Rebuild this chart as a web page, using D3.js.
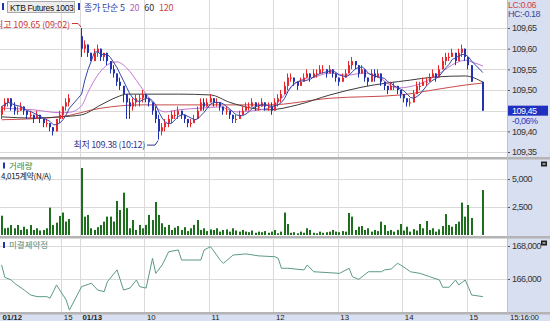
<!DOCTYPE html>
<html>
<head>
<meta charset="utf-8">
<script src="https://cdn.jsdelivr.net/npm/d3@7"></script>
<style>
body { margin: 0; background: #fff; }
text { font-family: "Liberation Sans", Arial, sans-serif; }
.kr { font-family: "Noto Sans CJK KR", sans-serif; }
</style>
</head>
<body>
<svg id="chart" width="550" height="321"></svg>
<script>
// 3-minute candles, KTB Futures 1003
const day1Open = new Date(2010, 0, 12, 14, 3);
const day1End = new Date(2010, 0, 12, 15, 15);
const day2Open = new Date(2010, 0, 13, 9, 0);
const day2End = new Date(2010, 0, 13, 15, 16);
const closeTime = new Date(2010, 0, 13, 15, 15);

// [open, high, low, close]
const ohlc1 = [
  [109.44,109.46,109.43,109.46],[109.46,109.48,109.45,109.47],[109.47,109.48,109.46,109.48],[109.48,109.48,109.45,109.46],
  [109.46,109.47,109.44,109.45],[109.45,109.46,109.44,109.45],[109.45,109.47,109.45,109.46],[109.46,109.46,109.44,109.45],
  [109.45,109.45,109.43,109.44],[109.44,109.45,109.43,109.44],[109.44,109.44,109.42,109.43],[109.43,109.45,109.43,109.44],
  [109.44,109.44,109.42,109.43],[109.43,109.43,109.41,109.42],[109.42,109.43,109.41,109.42],[109.42,109.42,109.40,109.41],
  [109.41,109.41,109.39,109.40],[109.40,109.43,109.40,109.43],[109.43,109.45,109.42,109.44],[109.44,109.46,109.43,109.46],
  [109.46,109.48,109.45,109.47],[109.47,109.49,109.46,109.48]
];
const ohlc2 = [
  [109.63,109.65,109.58,109.60],[109.60,109.62,109.59,109.61],[109.61,109.61,109.58,109.59],[109.59,109.59,109.57,109.57],
  [109.57,109.60,109.57,109.59],[109.59,109.61,109.58,109.60],[109.60,109.60,109.57,109.58],[109.58,109.59,109.57,109.59],
  [109.59,109.59,109.56,109.57],[109.57,109.57,109.54,109.55],[109.55,109.56,109.53,109.54],[109.54,109.54,109.51,109.52],
  [109.52,109.53,109.50,109.51],[109.51,109.51,109.47,109.49],[109.49,109.49,109.43,109.47],[109.47,109.48,109.43,109.46],
  [109.46,109.48,109.45,109.47],[109.47,109.49,109.46,109.48],[109.48,109.49,109.46,109.48],[109.48,109.50,109.47,109.49],
  [109.49,109.49,109.47,109.48],[109.48,109.48,109.46,109.47],[109.47,109.47,109.44,109.45],[109.45,109.46,109.42,109.43],
  [109.43,109.44,109.38,109.40],[109.40,109.42,109.39,109.41],[109.41,109.43,109.40,109.42],[109.42,109.44,109.41,109.43],
  [109.43,109.45,109.42,109.44],[109.44,109.45,109.43,109.44],[109.44,109.46,109.43,109.45],[109.45,109.45,109.43,109.44],
  [109.44,109.44,109.42,109.43],[109.43,109.43,109.41,109.42],[109.42,109.43,109.41,109.42],[109.42,109.44,109.42,109.43],
  [109.43,109.46,109.43,109.45],[109.45,109.48,109.45,109.47],[109.47,109.48,109.45,109.46],[109.46,109.48,109.46,109.47],
  [109.47,109.49,109.47,109.48],[109.48,109.48,109.46,109.47],[109.47,109.48,109.46,109.47],[109.47,109.47,109.45,109.46],
  [109.46,109.46,109.44,109.45],[109.45,109.46,109.44,109.45],[109.45,109.45,109.43,109.44],[109.44,109.44,109.42,109.43],
  [109.43,109.44,109.42,109.43],[109.43,109.45,109.43,109.44],[109.44,109.46,109.44,109.45],[109.45,109.47,109.45,109.46],
  [109.46,109.47,109.45,109.46],[109.46,109.48,109.46,109.47],[109.47,109.47,109.45,109.46],[109.46,109.47,109.45,109.46],
  [109.46,109.48,109.46,109.47],[109.47,109.47,109.45,109.46],[109.46,109.47,109.45,109.46],[109.46,109.47,109.44,109.45],
  [109.45,109.48,109.45,109.47],[109.47,109.49,109.46,109.48],[109.48,109.50,109.47,109.49],[109.49,109.52,109.49,109.51],
  [109.51,109.54,109.50,109.53],[109.53,109.54,109.52,109.53],[109.53,109.53,109.51,109.52],[109.52,109.52,109.50,109.51],
  [109.51,109.53,109.51,109.52],[109.52,109.54,109.52,109.53],[109.53,109.55,109.53,109.54],[109.54,109.54,109.52,109.53],
  [109.53,109.55,109.53,109.54],[109.54,109.55,109.53,109.54],[109.54,109.56,109.54,109.55],[109.55,109.56,109.54,109.55],
  [109.55,109.55,109.53,109.54],[109.54,109.56,109.54,109.55],[109.55,109.55,109.53,109.54],[109.54,109.54,109.52,109.53],
  [109.53,109.53,109.51,109.52],[109.52,109.54,109.52,109.53],[109.53,109.55,109.53,109.54],[109.54,109.57,109.54,109.56],
  [109.56,109.58,109.55,109.57],[109.57,109.57,109.55,109.56],[109.56,109.56,109.53,109.54],[109.54,109.56,109.54,109.55],
  [109.55,109.55,109.52,109.53],[109.53,109.53,109.51,109.52],[109.52,109.55,109.52,109.54],[109.54,109.55,109.52,109.53],
  [109.53,109.55,109.53,109.54],[109.54,109.54,109.51,109.52],[109.52,109.52,109.50,109.51],[109.51,109.51,109.49,109.50],
  [109.50,109.52,109.50,109.51],[109.51,109.52,109.50,109.51],[109.51,109.51,109.49,109.50],[109.50,109.50,109.48,109.49],
  [109.49,109.49,109.47,109.48],[109.48,109.48,109.46,109.47],[109.47,109.48,109.46,109.47],[109.47,109.50,109.47,109.49],
  [109.49,109.52,109.49,109.51],[109.51,109.52,109.50,109.51],[109.51,109.53,109.51,109.52],[109.52,109.53,109.51,109.52],
  [109.52,109.54,109.52,109.53],[109.53,109.55,109.53,109.54],[109.54,109.54,109.52,109.53],[109.53,109.56,109.53,109.55],
  [109.55,109.58,109.55,109.57],[109.57,109.59,109.56,109.58],[109.58,109.59,109.57,109.58],[109.58,109.60,109.58,109.59],
  [109.59,109.59,109.56,109.57],[109.57,109.60,109.57,109.59],[109.59,109.61,109.58,109.60],[109.60,109.60,109.57,109.58],
  [109.58,109.58,109.55,109.56],[109.56,109.56,109.52,109.52]
];
const ohlcClose = [109.52, 109.52, 109.45, 109.45];

const vol1 = [1720,600,650,890,600,890,450,740,520,890,450,600,400,450,600,2440,890,1100,1700,2000,1200,1430];
const vol2 = [5980,1640,1790,600,450,700,890,1190,1640,1640,1200,3040,2230,3780,2400,600,1340,450,900,600,
  900,1790,1340,2950,1790,1050,700,900,450,650,800,450,700,350,600,900,1340,450,600,350,
  500,450,600,300,450,500,300,600,400,300,450,310,250,400,200,300,250,350,200,300,
  450,150,300,2000,980,200,250,150,300,200,600,450,200,150,300,200,250,300,450,300,
  250,350,300,1970,1640,450,740,800,450,600,300,450,350,1190,890,350,450,300,450,980,
  400,740,300,520,400,980,600,1250,450,600,300,500,800,1870,890,740,980,1190,2890,1640,
  2680,1520];
const volClose = 4015;

// moving averages: [bar index, value]
const ma20 = [[0,109.456],[10,109.452],[18,109.445],[21,109.446],[22,109.462],[24,109.495],[27,109.536],[31,109.565],
  [33,109.568],[36,109.553],[40,109.512],[43,109.48],[45,109.459],[48,109.447],[52,109.452],[59,109.456],[65,109.459],
  [70,109.447],[80,109.456],[84,109.48],[87,109.507],[90,109.524],[94,109.531],[99,109.541],[104,109.536],[110,109.541],
  [114,109.531],[120,109.505],[127,109.515],[133,109.54],[138,109.565],[141,109.572],[143,109.568],[144,109.558]];
const ma60 = [[0,109.435],[10,109.432],[18,109.435],[22,109.44],[28,109.464],[33,109.483],[36,109.49],[52,109.49],
  [62,109.488],[68,109.47],[80,109.452],[89,109.464],[99,109.488],[109,109.507],[124,109.524],[131,109.531],
  [141,109.534],[144,109.519]];
const ma120 = [[0,109.428],[18,109.435],[28,109.456],[40,109.464],[80,109.464],[99,109.48],[121,109.488],
  [131,109.50],[141,109.512],[144,109.517]];

// open interest: [bar index, contracts]
const openInt = [[0,166850],[1,166100],[3,165940],[4,165740],[7,165330],[9,165030],[11,164930],[14,164930],[15,164840],
  [16,165230],[17,165640],[19,165030],[20,164730],[21,164120],[22,165540],[25,165740],[27,165330],[29,165230],[30,165840],
  [33,166550],[35,165330],[37,165450],[39,165940],[40,165540],[42,165450],[44,167250],[45,166340],[47,166850],[49,167650],
  [52,167760],[53,167150],[59,167150],[60,167760],[62,167960],[65,167150],[66,166950],[69,167450],[73,167520],[77,167400],
  [82,167350],[83,167250],[84,166650],[86,166650],[91,166550],[92,166850],[94,166440],[99,166380],[102,166340],[105,166650],
  [106,166140],[108,165980],[111,166440],[115,166440],[116,166550],[118,166600],[120,166950],[121,166850],[124,166440],
  [127,166340],[130,166140],[133,165940],[134,165500],[136,165500],[138,165940],[139,165640],[141,165940],[142,165500],
  [143,165030],[144,164930]];

const priceTicks = [109.35,109.40,109.45,109.50,109.55,109.60,109.65];
const volTicks = [2500, 5000];
const oiTicks = [166000, 168000];
const timeTicks = [new Date(2010,0,12,14,3), new Date(2010,0,12,15,0), day2Open, new Date(2010,0,13,10,0),
  new Date(2010,0,13,11,0), new Date(2010,0,13,12,0), new Date(2010,0,13,13,0), new Date(2010,0,13,14,0), new Date(2010,0,13,15,0)];
const timeLabels = ['01/12','15','01/13','10','11','12','13','14','15'];

const lastPrice = '109,45', lastChange = '-0,06%';
const hiNote = '최고 109.65 (09:02)', loNote = '최저 109.38 (10:12)';

// ---- build bars
const step = 3 * 60000;
const bars = [];
ohlc1.forEach((d, i) => bars.push({t: new Date(+day1Open + i * step + step / 2), o: d[0], h: d[1], l: d[2], c: d[3], v: vol1[i]}));
ohlc2.forEach((d, i) => bars.push({t: new Date(+day2Open + i * step + step / 2), o: d[0], h: d[1], l: d[2], c: d[3], v: vol2[i]}));
bars.push({t: closeTime, o: ohlcClose[0], h: ohlcClose[1], l: ohlcClose[2], c: ohlcClose[3], v: volClose});

const plotRight = 507;
const x = d3.scaleTime().domain([day1Open, day1End, day2Open, day2End]).range([0, 77.5, 80, 484]);
const yP = d3.scaleLinear().domain([109.35, 109.65]).range([152, 28]);
const yV = d3.scaleLinear().domain([0, 5000]).range([235, 179]);
const yO = d3.scaleLinear().domain([166000, 168000]).range([279, 246]);
const bx = d => Math.round(x(d.t));

const svg = d3.select('#chart');
svg.append('rect').attr('width', 550).attr('height', 321).attr('fill', '#fff');
svg.append('rect').attr('x', plotRight).attr('y', 0).attr('width', 550 - plotRight).attr('height', 321).attr('fill', '#d8dff0');
svg.append('rect').attr('x', 0).attr('y', 313).attr('width', 550).attr('height', 8).attr('fill', '#d8dff0');

const defs = svg.append('defs');
const panels = [[0, 157], [160, 236], [239, 312]];
panels.forEach((p, i) => {
  defs.append('clipPath').attr('id', 'clip' + i).append('rect')
    .attr('x', 0).attr('y', p[0]).attr('width', plotRight).attr('height', p[1] - p[0]);
});

// grid
const grid = svg.append('g').attr('stroke', '#dadada').attr('stroke-width', 1);
panels.forEach(p => {
  grid.selectAll(null).data(timeTicks.slice(1)).join('line')
    .attr('x1', d => Math.round(x(d)) + 0.5).attr('x2', d => Math.round(x(d)) + 0.5)
    .attr('y1', p[0]).attr('y2', p[1]);
});
grid.selectAll(null).data(priceTicks).join('line')
  .attr('x1', 0).attr('x2', plotRight).attr('y1', d => Math.round(yP(d)) + 0.5).attr('y2', d => Math.round(yP(d)) + 0.5);
grid.selectAll(null).data(volTicks).join('line')
  .attr('x1', 0).attr('x2', plotRight).attr('y1', d => Math.round(yV(d)) + 0.5).attr('y2', d => Math.round(yV(d)) + 0.5);
grid.selectAll(null).data(oiTicks).join('line')
  .attr('x1', 0).attr('x2', plotRight).attr('y1', d => Math.round(yO(d)) + 0.5).attr('y2', d => Math.round(yO(d)) + 0.5);

// panel separators
[157, 236, 312].forEach(y => {
  svg.append('rect').attr('x', 0).attr('y', y).attr('width', 550).attr('height', 2.5).attr('fill', '#b4b4b4');
});

// ---- price panel
const up = '#e8262c', down = '#2233b0';
const barColor = (d, i) => {
  if (d.c > d.o) return up;
  if (d.c < d.o) return down;
  return (i > 0 && d.c < bars[i - 1].c) ? down : up;
};
const gP = svg.append('g').attr('clip-path', 'url(#clip0)');

const maLine = d3.line().x(d => x(bars[d[0]].t)).y(d => yP(d[1])).curve(d3.curveMonotoneX);
gP.append('path').datum(ma120).attr('d', maLine).attr('fill', 'none').attr('stroke', '#c84a4a').attr('stroke-width', 1);
gP.append('path').datum(ma60).attr('d', maLine).attr('fill', 'none').attr('stroke', '#3c3c3c').attr('stroke-width', 1);
gP.append('path').datum(ma20).attr('d', maLine).attr('fill', 'none').attr('stroke', '#c277cf').attr('stroke-width', 1);

gP.selectAll('line.wick').data(bars).join('line').attr('class', 'wick')
  .attr('x1', d => bx(d) - 0.5).attr('x2', d => bx(d) - 0.5)
  .attr('y1', d => yP(d.h)).attr('y2', d => yP(d.l))
  .attr('stroke', barColor).attr('stroke-width', 1);
gP.selectAll('rect.body').data(bars).join('rect').attr('class', 'body')
  .attr('x', d => bx(d) - 1).attr('width', 2)
  .attr('y', d => yP(Math.max(d.o, d.c)))
  .attr('height', d => Math.max(1, Math.abs(yP(d.o) - yP(d.c))))
  .attr('fill', barColor);

// 5-bar simple average of closes
const ma5 = bars.map((d, i) => {
  const win = bars.slice(Math.max(0, i - 4), i + 1);
  return [i, d3.mean(win, b => b.c)];
});
gP.append('path').datum(ma5).attr('d', d3.line().x(d => x(bars[d[0]].t)).y(d => yP(d[1])))
  .attr('fill', 'none').attr('stroke', '#3646a6').attr('stroke-width', 1);

// high / low notes
const hiBar = d3.greatest(bars, d => d.h);
const loBar = d3.least(bars, d => d.l);
const hx = bx(hiBar), hy = yP(hiBar.h);
svg.append('text').attr('class', 'kr').attr('x', hx - 12).attr('y', hy).attr('text-anchor', 'end')
  .attr('font-size', 9).attr('letter-spacing', -0.1).attr('fill', '#c83838').text(hiNote);
svg.append('path').attr('d', `M${hx - 10},${hy - 4.5}H${hx - 4}L${hx - 1},${hy - 1}`)
  .attr('fill', 'none').attr('stroke', '#c83838').attr('stroke-width', 1);
const lx = bx(loBar), ly = yP(loBar.l);
svg.append('text').attr('class', 'kr').attr('x', lx - 14).attr('y', ly + 8.5).attr('text-anchor', 'end')
  .attr('font-size', 9).attr('letter-spacing', -0.3).attr('fill', '#34348e').text(loNote);
svg.append('path').attr('d', `M${lx - 12},${ly + 5.5}H${lx - 4}L${lx - 1},${ly + 1}`)
  .attr('fill', 'none').attr('stroke', '#34348e').attr('stroke-width', 1);

// legend
svg.append('rect').attr('x', 2).attr('y', 3).attr('width', 2).attr('height', 7).attr('fill', '#2233b0');
svg.append('rect').attr('x', 7.5).attr('y', 1.5).attr('width', 67).attr('height', 11).attr('fill', '#ececec').attr('stroke', '#a9a9a9');
svg.append('text').attr('x', 10).attr('y', 10.5).attr('font-size', 8.5).attr('letter-spacing', -0.35).attr('fill', '#111').text('KTB Futures 1003');
svg.append('rect').attr('x', 78).attr('y', 3).attr('width', 2).attr('height', 7).attr('fill', '#2233b0');
const leg = svg.append('text').attr('class', 'kr').attr('x', 84).attr('y', 10.5).attr('font-size', 9).attr('letter-spacing', -0.2);
leg.append('tspan').attr('fill', '#2e3ea4').text('종가 단순 5');
leg.append('tspan').attr('dx', 5).attr('fill', '#b660bc').text('20');
leg.append('tspan').attr('dx', 5).attr('fill', '#333').text('60');
leg.append('tspan').attr('dx', 5).attr('fill', '#c84848').text('120');

// ---- volume panel
const gV = svg.append('g').attr('clip-path', 'url(#clip1)');
gV.selectAll('rect').data(bars).join('rect')
  .attr('x', d => bx(d) - 1).attr('width', 2)
  .attr('y', d => yV(d.v)).attr('height', d => yV(0) - yV(d.v))
  .attr('fill', '#1d6e1d');
svg.append('rect').attr('x', 3).attr('y', 162.5).attr('width', 2).attr('height', 6).attr('fill', '#2233b0');
svg.append('text').attr('class', 'kr').attr('x', 9).attr('y', 168.5).attr('font-size', 8.5).attr('fill', '#3a8a3a').text('거래량');
svg.append('text').attr('class', 'kr').attr('x', 1).attr('y', 178.5).attr('font-size', 8).attr('letter-spacing', -0.3)
  .attr('fill', '#111').text(d3.format(',')(volClose) + '계약(N/A)');

// ---- open interest panel
const gO = svg.append('g').attr('clip-path', 'url(#clip2)');
gO.append('path').datum(openInt)
  .attr('d', d3.line().x(d => x(bars[d[0]].t)).y(d => yO(d[1])))
  .attr('fill', 'none').attr('stroke', '#5c9a80').attr('stroke-width', 1);
svg.append('rect').attr('x', 3).attr('y', 242).attr('width', 2).attr('height', 6).attr('fill', '#2233b0');
svg.append('text').attr('class', 'kr').attr('x', 9).attr('y', 248).attr('font-size', 8.5).attr('fill', '#5a8a78').text('미결제약정');

// ---- right axes
function rightAxis(scale, ticks, fmt) {
  const g = svg.append('g').attr('transform', `translate(${plotRight},0)`)
    .call(d3.axisRight(scale).tickValues(ticks).tickSize(3).tickFormat(fmt));
  g.select('.domain').remove();
  g.selectAll('.tick line').attr('stroke', '#555');
  g.selectAll('.tick text').attr('x', 5).attr('font-size', 9).attr('letter-spacing', -0.5)
    .attr('font-family', 'Liberation Sans, Arial, sans-serif').attr('fill', '#333');
  return g;
}
rightAxis(yP, priceTicks, d => d3.format('.2f')(d).replace('.', ','));
rightAxis(yV, volTicks, d3.format(','));
rightAxis(yO, oiTicks, d3.format(','));
svg.append('line').attr('x1', plotRight + 0.5).attr('x2', plotRight + 0.5).attr('y1', 0).attr('y2', 313).attr('stroke', '#b8c0d4');

// last price box
const ly0 = yP(ohlcClose[3]);
svg.append('rect').attr('x', 508).attr('y', ly0 - 5).attr('width', 40).attr('height', 10).attr('fill', '#1f2fc0');
svg.append('text').attr('x', 512).attr('y', ly0 + 3.5).attr('font-size', 9).attr('letter-spacing', -0.5).attr('fill', '#fff').text(lastPrice);
svg.append('text').attr('x', 512).attr('y', ly0 + 13).attr('font-size', 9).attr('letter-spacing', -0.5).attr('fill', '#2a36c0').text(lastChange);
svg.append('text').attr('x', 508).attr('y', 8).attr('font-size', 9).attr('letter-spacing', -0.5).attr('fill', '#d04444').text('LC:0.06');
svg.append('text').attr('x', 508).attr('y', 17).attr('font-size', 9).attr('letter-spacing', -0.5).attr('fill', '#3a46a6').text('HC:-0.18');

// panel icons
[160.5, 239.5].forEach(y => {
  svg.append('rect').attr('x', 541).attr('y', y + 1).attr('width', 6).attr('height', 5).attr('fill', '#222');
  svg.append('line').attr('x1', 542.5).attr('x2', 545.5).attr('y1', y + 3.5).attr('y2', y + 3.5).attr('stroke', '#fff');
});

// ---- bottom time axis
const gx = svg.append('g').attr('transform', 'translate(0,313)')
  .call(d3.axisBottom(x).tickValues(timeTicks).tickSize(0).tickFormat((d, i) => timeLabels[i]));
gx.select('.domain').remove();
gx.selectAll('.tick text').attr('text-anchor', 'start').attr('dx', 2).attr('y', 0).attr('dy', '6.8px')
  .attr('font-size', 7.8).attr('font-family', 'Liberation Sans, Arial, sans-serif').attr('fill', '#222')
  .attr('font-weight', (d, i) => timeLabels[i].includes('/') ? 'bold' : 'normal');
svg.append('text').attr('x', 510).attr('y', 319.8).attr('font-size', 7.8).attr('letter-spacing', -0.2).attr('fill', '#222').text('15:16:00');
</script>
</body>
</html>
